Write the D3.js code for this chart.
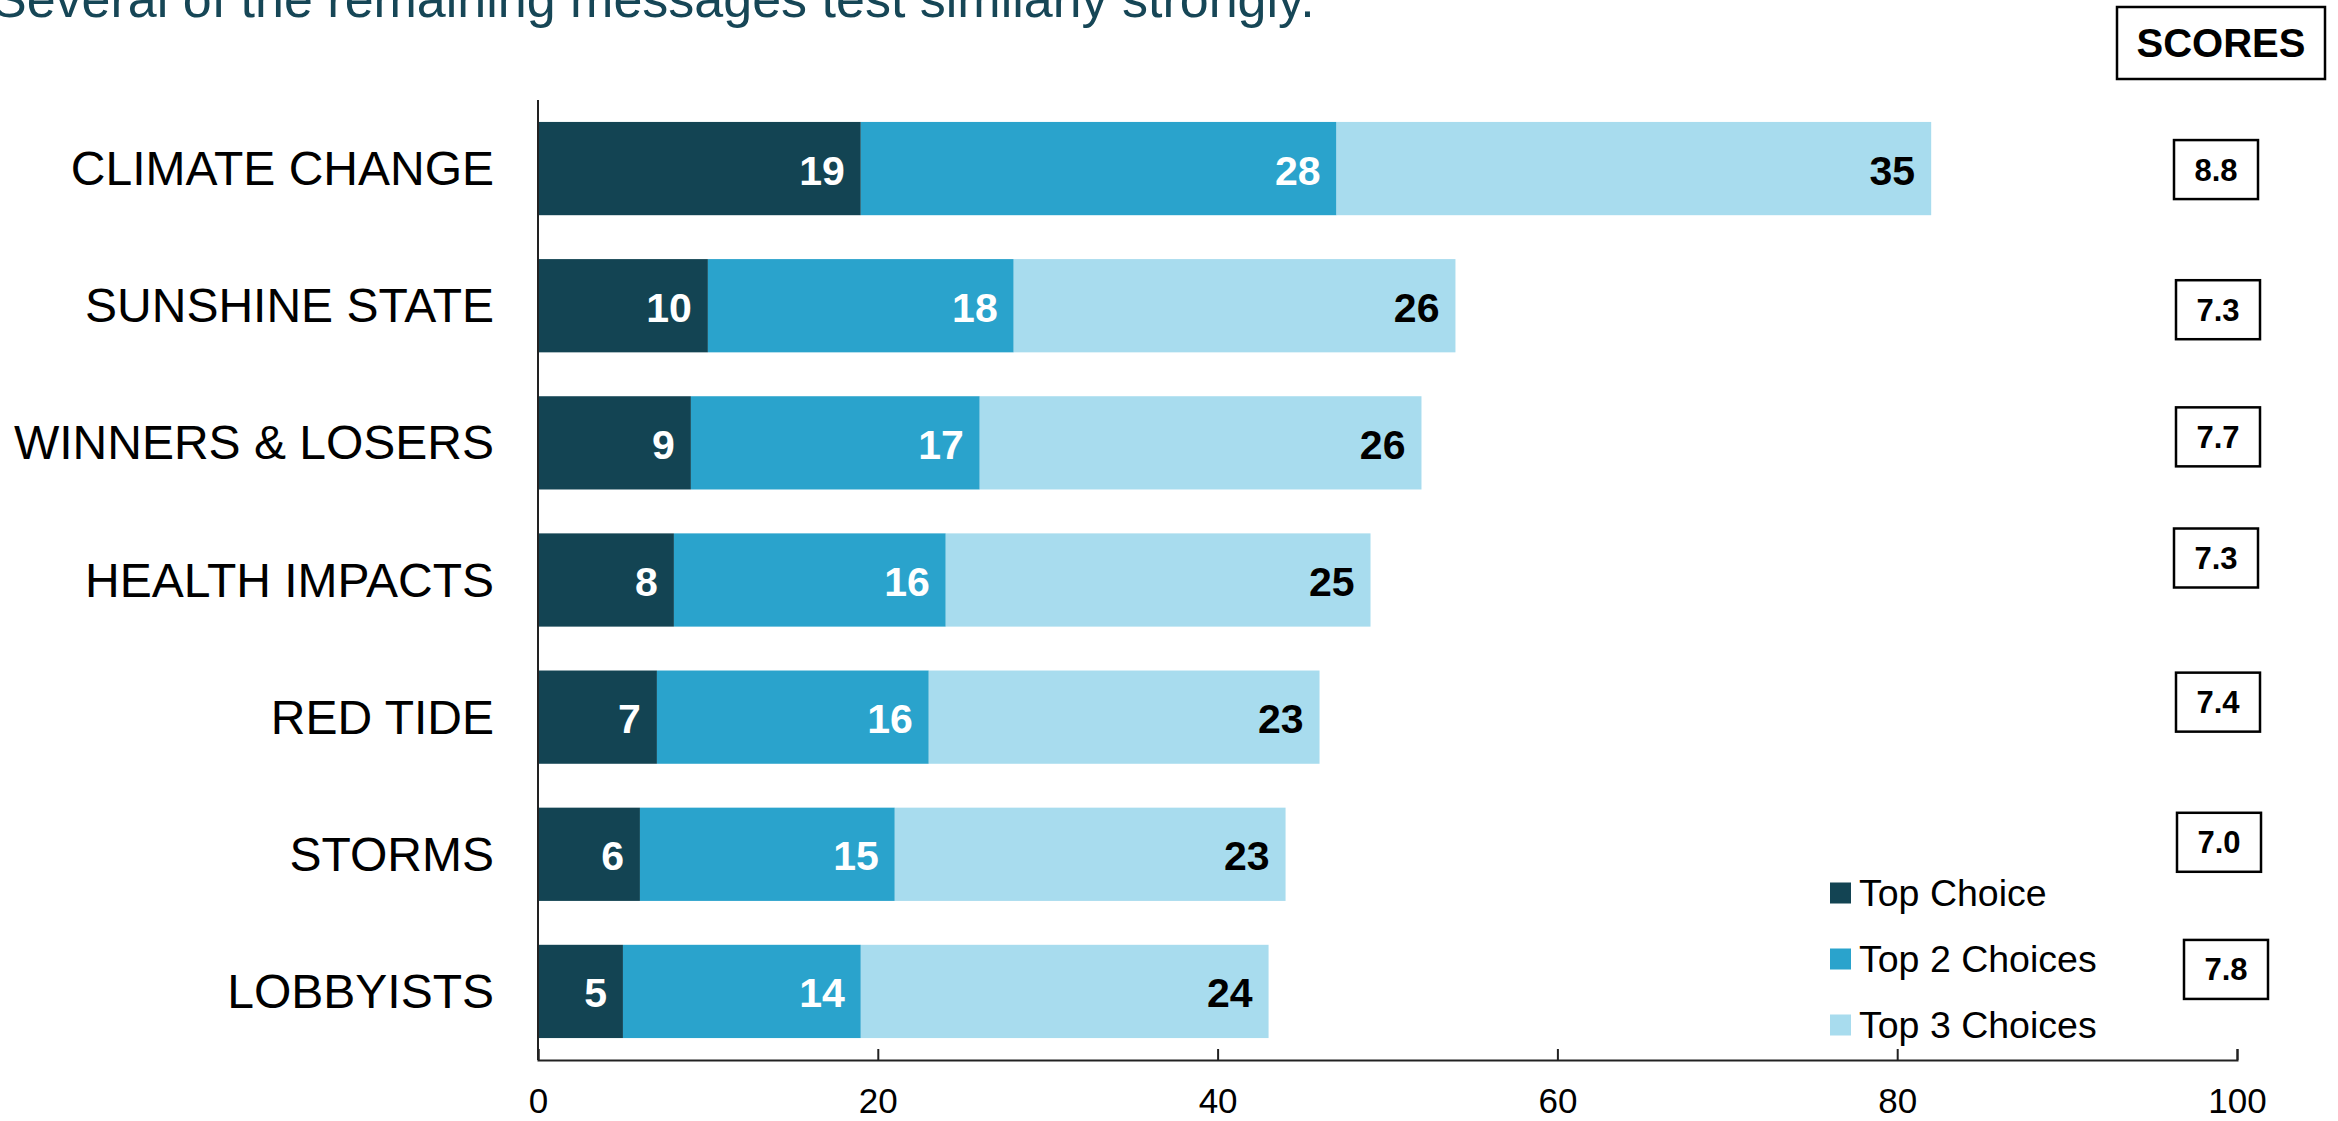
<!DOCTYPE html>
<html>
<head>
<meta charset="utf-8">
<script src="https://cdn.jsdelivr.net/npm/d3@7/dist/d3.min.js"></script>
<style>
  html, body { margin: 0; padding: 0; background: #fff; overflow: hidden; }
  svg { display: block; font-family: "Liberation Sans", Arial, sans-serif; }
</style>
</head>
<body>
<svg id="chart" width="2338" height="1121"></svg>
<script>
// Message test results: share choosing each message, stacked by choice depth
const categories = ["CLIMATE CHANGE", "SUNSHINE STATE", "WINNERS & LOSERS", "HEALTH IMPACTS", "RED TIDE", "STORMS", "LOBBYISTS"];
const topChoice  = [19, 10, 9, 8, 7, 6, 5];
const top2       = [28, 18, 17, 16, 16, 15, 14];
const top3       = [35, 26, 26, 25, 23, 23, 24];
const scores     = [8.8, 7.3, 7.7, 7.3, 7.4, 7.0, 7.8];
const seriesNames = ["Top Choice", "Top 2 Choices", "Top 3 Choices"];
const xTicks = [0, 20, 40, 60, 80, 100];

const colors = ["#134453", "#2aa3cc", "#a8dcee"];
const labelColors = ["#ffffff", "#ffffff", "#000000"];

// Small per-row offsets for the score boxes (they sit slightly off the bar rows)
const scoreShiftX = [-1, 1, 1, -1, 1, 2, 9];
const scoreShiftY = [1, 4, -6, -22, -15, -12, -22];

const svg = d3.select("#chart");

const x = d3.scaleLinear().domain([0, 100]).range([538, 2237]);
const y = d3.scaleBand().domain(categories).range([100, 1060])
  .paddingInner(0.32).paddingOuter(0.16);

const rows = categories.map((c, i) => ({ cat: c, vals: [topChoice[i], top2[i], top3[i]] }));
const stackData = d3.stack().keys([0, 1, 2]).value((d, k) => d.vals[k])(rows);

// Title (runs off the top edge)
svg.append("text")
  .attr("x", -8).attr("y", 17)
  .attr("font-size", 52)
  .attr("fill", "#164656")
  .text("Several of the remaining messages test similarly strongly.");

// Stacked bars
stackData.forEach((layer, k) => {
  const g = svg.append("g");
  g.selectAll("rect").data(layer).join("rect")
    .attr("x", d => x(d[0]))
    .attr("width", d => x(d[1]) - x(d[0]))
    .attr("y", d => y(d.data.cat))
    .attr("height", y.bandwidth())
    .attr("fill", colors[k]);
  g.selectAll("text").data(layer).join("text")
    .attr("x", d => x(d[1]) - 16)
    .attr("y", d => y(d.data.cat) + y.bandwidth() / 2 + 16)
    .attr("text-anchor", "end")
    .attr("font-size", 41)
    .attr("font-weight", "bold")
    .attr("fill", labelColors[k])
    .text(d => d.data.vals[k]);
});

// Category labels
svg.append("g").selectAll("text").data(categories).join("text")
  .attr("x", 494)
  .attr("y", d => y(d) + y.bandwidth() / 2 + 16.5)
  .attr("text-anchor", "end")
  .attr("font-size", 48)
  .attr("fill", "#000")
  .text(d => d);

// Vertical axis line
svg.append("line")
  .attr("x1", x(0)).attr("x2", x(0))
  .attr("y1", 100).attr("y2", 1060)
  .attr("stroke", "#222").attr("stroke-width", 2);

// Horizontal axis with ticks pointing up into the plot
const xAxis = d3.axisBottom(x).tickValues(xTicks).tickSizeInner(-11).tickSizeOuter(-11).tickPadding(28);
const gx = svg.append("g").attr("transform", "translate(0,1060)").call(xAxis);
gx.select(".domain").attr("stroke", "#222").attr("stroke-width", 2);
gx.selectAll(".tick line").attr("stroke", "#222").attr("stroke-width", 2);
gx.selectAll(".tick text")
  .attr("font-size", 35)
  .attr("font-family", "Liberation Sans, Arial, sans-serif")
  .attr("fill", "#000");

// Legend
const legend = svg.append("g");
seriesNames.forEach((name, k) => {
  const ly = 893 + k * 66;
  legend.append("rect")
    .attr("x", 1830).attr("y", ly - 10.5)
    .attr("width", 21).attr("height", 21)
    .attr("fill", colors[k]);
  legend.append("text")
    .attr("x", 1859).attr("y", ly + 13)
    .attr("font-size", 37.5)
    .attr("fill", "#000")
    .text(name);
});

// Scores header
svg.append("rect")
  .attr("x", 2117).attr("y", 7).attr("width", 208).attr("height", 72)
  .attr("fill", "#fff").attr("stroke", "#000").attr("stroke-width", 2.5);
svg.append("text")
  .attr("x", 2221).attr("y", 57)
  .attr("text-anchor", "middle")
  .attr("font-size", 40).attr("font-weight", "bold")
  .text("SCORES");

// Score boxes
const sg = svg.append("g").selectAll("g").data(categories).join("g")
  .attr("transform", (d, i) => `translate(${2217 + scoreShiftX[i]},${y(d) + y.bandwidth() / 2 + scoreShiftY[i]})`);
sg.append("rect")
  .attr("x", -42).attr("y", -29.5).attr("width", 84).attr("height", 59)
  .attr("fill", "#fff").attr("stroke", "#000").attr("stroke-width", 2.5);
sg.append("text")
  .attr("y", 11)
  .attr("text-anchor", "middle")
  .attr("font-size", 31).attr("font-weight", "bold")
  .text((d, i) => scores[i].toFixed(1));
</script>
</body>
</html>
